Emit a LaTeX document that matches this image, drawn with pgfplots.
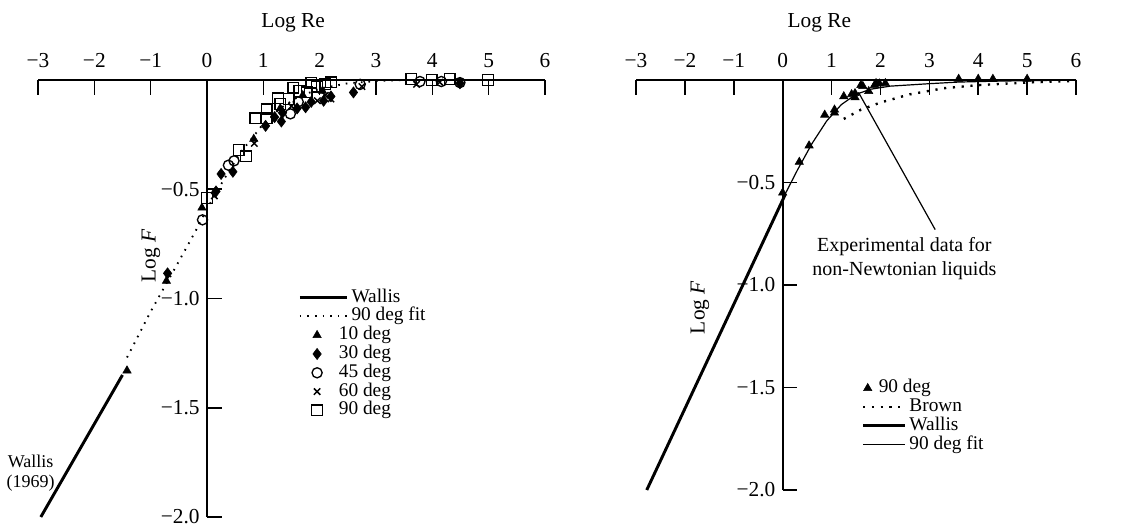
\documentclass[border=0pt]{standalone}
\usepackage{pgfplots}
\pgfplotsset{compat=1.18}
\usepackage{fontspec}
\setmainfont{Liberation Serif}
\begin{document}
\fontsize{16}{18}\selectfont
\begin{tikzpicture}
\path[use as bounding box] (0,0) rectangle (844.5pt,396pt);
\pgfplotsset{
  myaxis/.style={
    scale only axis,
    xmin=-3, xmax=6, ymin=-2, ymax=0,
    axis x line*=top, axis y line*=middle,
    axis line style={line width=1.3pt},
    tick align=inside,
    major tick length=11pt,
    tick style={line width=1.2pt, black},
    xtick={-3,...,6},
    xticklabels={−3,−2,−1,0,1,2,3,4,5,6},
    ytick={-2,-1.5,-1,-0.5},
    yticklabels={−2.0,−1.5,−1.0,−0.5},
    tick label style={font=\fontsize{16}{18}\selectfont},
    xticklabel style={yshift=4pt},
    clip=false,
    legend cell align=left,
    legend style={draw=none, fill=none, font=\fontsize{14.5}{16}\selectfont, row sep=0.2pt,
      nodes={inner sep=0.3pt, text height=10pt, text depth=3.3pt}},
  },
  lineleg/.style 2 args={legend image code/.code={\draw[##1] (0pt,0pt) -- (#1,0pt); \path[draw=none,fill=none] (0pt,0pt) -- (#2,0pt);}},
  markleg/.style 2 args={legend image code/.code={\path[draw=none,fill=none] (0pt,0pt) -- (#1,0pt); \draw[##1] plot coordinates {(#2,0pt)};}},
}
% ---------------- left ----------------
\begin{axis}[myaxis, at={(28.5pt,8.25pt)}, anchor=south west, width=380.25pt, height=327.75pt,
  legend style={at={(0.505,0.53)}, anchor=north west}]
\addplot[line width=2.2pt, lineleg={35.5pt}{38.5pt}] coordinates {(-2.95,-2.0) (-1.5,-1.35)};
\addlegendentry{Wallis}
\addplot[line width=1.4pt, dash pattern=on 1.2pt off 4.5pt, lineleg={35.5pt}{38.5pt}] coordinates {
(-1.42,-1.27) (-1.0,-1.06) (-0.5,-0.83) (-0.2,-0.69) (0,-0.59) (0.3,-0.455) (0.6,-0.33) (0.85,-0.25) (1.0,-0.2) (1.3,-0.13) (1.6,-0.08) (2.0,-0.04) (2.5,-0.015) (3.0,-0.005) (3.5,0) (6,0)};
\addlegendentry{90 deg fit}
\addplot[only marks, mark=triangle*, mark size=3.6pt, markleg={38.5pt}{13pt}] coordinates {
(-1.42,-1.33) (-0.72,-0.92) (-0.09,-0.585) (0.83,-0.27) (1.3,-0.13) (1.7,-0.07) (2.05,-0.05)};
\addlegendentry{\hspace{-9.5pt}10 deg}
\addplot[only marks, mark=diamond*, mark size=4.2pt, markleg={38.5pt}{13pt}] coordinates {
(-0.70,-0.885) (0.16,-0.51) (0.25,-0.43) (0.46,-0.42) (1.04,-0.21) (1.2,-0.17) (1.32,-0.19) (1.34,-0.15) (1.6,-0.13) (1.75,-0.125) (1.85,-0.10) (2.07,-0.095) (2.2,-0.075) (2.6,-0.057) (4.49,-0.015)};
\addlegendentry{\hspace{-9.5pt}30 deg}
\addplot[only marks, mark=o, mark size=3.8pt, mark options={fill=white, line width=1pt}, markleg={38.5pt}{13pt}] coordinates {
(-0.08,-0.64) (0.38,-0.39) (0.48,-0.37) (1.48,-0.155) (1.62,-0.10) (2.72,-0.02) (3.78,-0.007) (4.16,-0.007) (4.49,-0.012)};
\addlegendentry{\hspace{-9.5pt}45 deg}
\addplot[only marks, mark=x, mark size=3.4pt, mark options={line width=1.1pt}, markleg={38.5pt}{13pt}] coordinates {
(0.13,-0.53) (0.84,-0.29) (1.5,-0.12) (1.96,-0.095) (2.1,-0.07) (2.2,-0.087) (2.75,-0.03) (3.72,-0.02) (4.13,-0.01)};
\addlegendentry{\hspace{-9.5pt}60 deg}
\addplot[only marks, mark=square, mark size=4pt, mark options={fill=white, line width=1pt}, markleg={38.5pt}{13pt}] coordinates {
(0,-0.54) (0.56,-0.32) (0.69,-0.35) (0.86,-0.175) (1.06,-0.135) (1.06,-0.175) (1.26,-0.084) (1.3,-0.11) (1.45,-0.087) (1.53,-0.035) (1.64,-0.05) (1.77,-0.057) (1.85,-0.012) (1.95,-0.03) (2.1,-0.02) (2.2,-0.01) (3.63,0.005) (3.99,0) (4.31,0.005) (4.99,0)};
\addlegendentry{\hspace{-9.5pt}90 deg}
\node at (axis cs:1.53,0) [yshift=43pt] {Log Re};
\node[rotate=90] at (axis cs:-0.995,-0.805) {Log \textit{F}};
\node[align=center, font=\fontsize{13.5}{15.5}\selectfont] at (axis cs:-3.13,-1.80) {Wallis\\(1969)};
\end{axis}
% ---------------- right ----------------
\begin{axis}[myaxis, at={(477pt,28.5pt)}, anchor=south west, width=330pt, height=307.5pt,
  legend style={at={(0.503,0.278)}, anchor=north west}]
\addplot[only marks, mark=triangle*, mark size=3.6pt, markleg={34.5pt}{3.5pt}] coordinates {
(0,-0.55) (0.34,-0.40) (0.54,-0.32) (0.86,-0.17) (1.06,-0.16) (1.06,-0.145) (1.25,-0.08) (1.41,-0.07) (1.48,-0.085) (1.48,-0.065) (1.6,-0.025) (1.64,-0.03) (1.76,-0.055) (1.88,-0.025) (1.91,-0.016) (1.98,-0.018) (2.1,-0.016) (3.6,0.005) (4.0,0.005) (4.3,0.005) (5.0,0.005)};
\addlegendentry{\hspace{-23pt}90 deg}
\addplot[line width=1.8pt, dash pattern=on 1.6pt off 5pt, lineleg={31.5pt}{34.5pt}] coordinates {
(1.25,-0.19) (1.6,-0.145) (2.0,-0.11) (2.3,-0.09) (2.6,-0.07) (3.3,-0.04) (4.0,-0.025) (5.0,-0.012) (6.0,-0.005)};
\addlegendentry{Brown}
\addplot[line width=2.2pt, lineleg={31.5pt}{34.5pt}] coordinates {(-2.78,-2.0) (0.05,-0.56)};
\addlegendentry{Wallis}
\addplot[line width=0.9pt, lineleg={31.5pt}{34.5pt}] coordinates {
(0,-0.58) (0.3,-0.44) (0.6,-0.31) (0.9,-0.2) (1.2,-0.12) (1.5,-0.07) (1.8,-0.045) (2.2,-0.03) (3.0,-0.018) (3.6,-0.01) (4.5,-0.005) (6,0)};
\addlegendentry{90 deg fit}
\draw[line width=0.9pt] (axis cs:1.55,-0.06) -- (axis cs:3.12,-0.73);
\node[align=center, fill=white, inner sep=1pt, font=\fontsize{15}{18}\selectfont] at (axis cs:2.49,-0.87) {Experimental data for\\non-Newtonian liquids};
\node at (axis cs:0.75,0) [yshift=43pt] {Log Re};
\node[rotate=90] at (axis cs:-1.69,-1.11) {Log \textit{F}};
\end{axis}
\end{tikzpicture}
\end{document}
